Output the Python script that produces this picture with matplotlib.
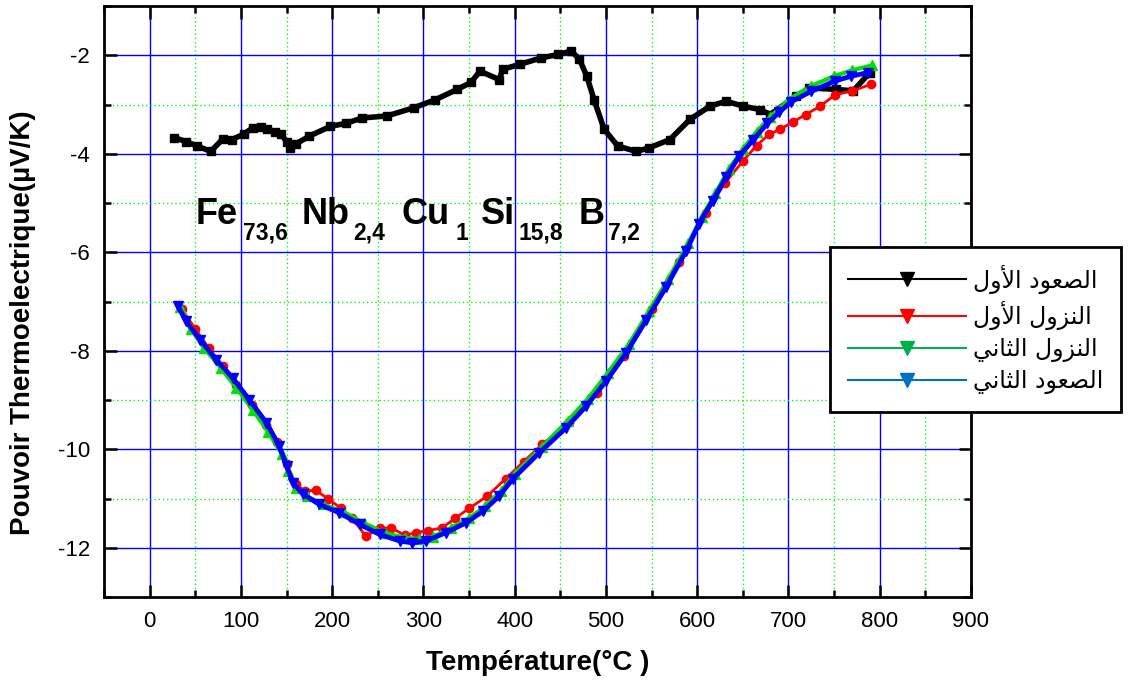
# region imports
import matplotlib
matplotlib.use("Agg")
import matplotlib.pyplot as plt
from matplotlib.lines import Line2D
from matplotlib.ticker import MultipleLocator
# endregion

# region data
# premiere montee (noir)
T_up1 = [27, 40, 52, 67, 80, 90, 103, 113, 122, 129, 137, 144, 150, 154, 160, 175, 198, 215, 233, 260,
         290, 313, 337, 352, 362, 383, 387, 406, 429, 448, 462, 471, 479, 487, 498, 513, 533, 547, 570, 592,
         614, 632, 650, 669, 680, 708, 723, 752, 771, 789]
S_up1 = [-3.67, -3.75, -3.84, -3.95, -3.7, -3.71, -3.6, -3.47, -3.45, -3.5, -3.55, -3.6, -3.75, -3.88, -3.8,
         -3.64, -3.44, -3.38, -3.27, -3.23, -3.06, -2.9, -2.69, -2.55, -2.32, -2.49, -2.28, -2.18, -2.05, -1.98,
         -1.91, -2.08, -2.42, -2.9, -3.5, -3.84, -3.95, -3.88, -3.71, -3.3, -3.03, -2.93, -3.03, -3.1, -3.2,
         -2.83, -2.66, -2.69, -2.72, -2.35]

# premiere descente (rouge)
T_down1 = [35, 50, 65, 80, 95, 112, 128, 140, 150, 160, 170, 182, 195, 210, 222, 237, 252, 265, 280, 292,
           305, 320, 335, 350, 370, 390, 410, 430, 460, 490, 520, 550, 580, 610, 630, 650, 665, 679, 691, 705,
           719, 735, 751, 770, 790]
S_down1 = [-7.15, -7.55, -7.95, -8.3, -8.7, -9.1, -9.5, -9.85, -10.3, -10.7, -10.85, -10.83, -11.0, -11.2,
           -11.4, -11.77, -11.6, -11.6, -11.75, -11.69, -11.65, -11.6, -11.4, -11.2, -10.95, -10.6, -10.25,
           -9.9, -9.45, -8.85, -8.1, -7.15, -6.2, -5.2, -4.6, -4.15, -3.83, -3.6, -3.5, -3.35, -3.2, -3.03,
           -2.8, -2.72, -2.59]

# deuxieme descente (vert)
T_down2 = [33, 45, 60, 78, 95, 113, 130, 145, 152, 160, 172, 190, 212, 235, 258, 280, 295, 310, 330, 350,
           368, 385, 400, 430, 458, 480, 502, 525, 547, 568, 590, 605, 620, 635, 650, 665, 680, 700, 725, 750,
           770, 792]
S_down2 = [-7.1, -7.55, -7.95, -8.35, -8.75, -9.2, -9.65, -10.1, -10.45, -10.78, -10.95, -11.12, -11.27,
           -11.5, -11.7, -11.8, -11.82, -11.78, -11.6, -11.4, -11.15, -10.85, -10.5, -9.95, -9.42, -8.98,
           -8.45, -7.87, -7.2, -6.55, -5.82, -5.28, -4.8, -4.3, -3.9, -3.55, -3.25, -2.9, -2.62, -2.42, -2.3,
           -2.2]

# deuxieme montee (bleu)
T_up2 = [31, 40, 55, 73, 91, 109, 128, 142, 150, 157, 168, 186, 208, 230, 252, 274, 288, 303, 325, 347,
         365, 383, 398, 427, 456, 478, 500, 522, 544, 566, 588, 602, 617, 632, 646, 661, 677, 690, 703, 725,
         751, 769, 787]
S_up2 = [-7.09, -7.4, -7.77, -8.18, -8.55, -8.99, -9.46, -9.93, -10.34, -10.68, -10.91, -11.12, -11.29,
         -11.52, -11.73, -11.86, -11.9, -11.86, -11.69, -11.49, -11.26, -10.95, -10.6, -10.07, -9.57, -9.13,
         -8.62, -8.05, -7.38, -6.7, -5.97, -5.42, -4.95, -4.46, -4.05, -3.72, -3.38, -3.15, -2.94, -2.73,
         -2.52, -2.42, -2.35]

labels = ['الصعود الأول', 'النزول الأول', 'النزول الثاني', 'الصعود الثاني']
x_ticks = [0, 100, 200, 300, 400, 500, 600, 700, 800, 900]
y_ticks = [-12, -10, -8, -6, -4, -2]

# composition Fe73,6 Nb2,4 Cu1 Si15,8 B7,2
elements = ['Fe', 'Nb', 'Cu', 'Si', 'B']
fractions = ['73,6', '2,4', '1', '15,8', '7,2']
# endregion

# region arabic shaping (matplotlib does not join arabic letters itself)
FORMS = {
    'ا': ('\ufe8d', '\ufe8e', None, None),
    'أ': ('\ufe83', '\ufe84', None, None),
    'د': ('\ufea9', '\ufeaa', None, None),
    'ز': ('\ufeaf', '\ufeb0', None, None),
    'و': ('\ufeed', '\ufeee', None, None),
    'ث': ('\ufe99', '\ufe9a', '\ufe9b', '\ufe9c'),
    'ص': ('\ufeb9', '\ufeba', '\ufebb', '\ufebc'),
    'ع': ('\ufec9', '\ufeca', '\ufecb', '\ufecc'),
    'ل': ('\ufedd', '\ufede', '\ufedf', '\ufee0'),
    'ن': ('\ufee5', '\ufee6', '\ufee7', '\ufee8'),
    'ي': ('\ufef1', '\ufef2', '\ufef3', '\ufef4'),
}
LAM_ALEF = {'ا': ('\ufefb', '\ufefc', None, None), 'أ': ('\ufef7', '\ufef8', None, None)}


def shape_word(word):
    letters = []
    i = 0
    while i < len(word):
        if word[i] == 'ل' and i + 1 < len(word) and word[i + 1] in LAM_ALEF:
            letters.append(LAM_ALEF[word[i + 1]])
            i += 2
        else:
            letters.append(FORMS[word[i]])
            i += 1
    out = []
    for k, f in enumerate(letters):
        prev_joins = k > 0 and letters[k - 1][2] is not None
        next_joins = k < len(letters) - 1 and f[2] is not None
        if prev_joins and next_joins:
            out.append(f[3])
        elif prev_joins:
            out.append(f[1])
        elif next_joins:
            out.append(f[2])
        else:
            out.append(f[0])
    return ''.join(out)


def arabic(text):
    # shape each word then reverse for left to right drawing
    return ' '.join(shape_word(w) for w in text.split())[::-1]
# endregion


def main():
    plt.rcParams['font.family'] = ['Liberation Sans', 'DejaVu Sans']
    plt.rcParams['axes.unicode_minus'] = False

    fig = plt.figure(figsize=(11.28, 6.87), dpi=100)
    ax = fig.add_axes([0.0922, 0.131, 0.7686, 0.860])

    # curves
    ax.plot(T_up1, S_up1, color='black', lw=4, marker='s', ms=6, zorder=3)
    ax.plot(T_down1, S_down1, color='#ff0000', lw=2, marker='o', ms=6, zorder=4)
    ax.plot(T_down2, S_down2, color='#00e000', lw=3, marker='^', ms=7, zorder=5)
    ax.plot(T_up2, S_up2, color='#0000ff', lw=3.5, marker='v', ms=7, zorder=6)

    # alloy formula, element symbols and lowered indices placed one by one
    elem_x = [50, 166.5, 276.5, 362.5, 470]
    sub_x = [102, 223, 335, 404, 502]
    for el, fr, xe, xs in zip(elements, fractions, elem_x, sub_x):
        ax.text(xe, -5.42, el, fontsize=26, fontweight='bold', va='baseline', zorder=7)
        ax.text(xs, -5.74, fr, fontsize=16.5, fontweight='bold', va='baseline', zorder=7)

    ax.set_xlim(-50, 900)
    ax.set_ylim(-13, -1)
    ax.set_xticks(x_ticks)
    ax.set_yticks(y_ticks)
    ax.xaxis.set_minor_locator(MultipleLocator(50))
    ax.yaxis.set_minor_locator(MultipleLocator(1))
    ax.grid(which='major', color='#0000ff', lw=1)
    ax.grid(which='minor', color='#00ff00', lw=1, ls=(0, (1, 2)))
    ax.set_axisbelow(True)

    ax.tick_params(which='both', direction='in', top=True, right=True, width=1.8)
    ax.tick_params(which='major', length=9, labelsize=16, pad=10)
    ax.tick_params(which='minor', length=5)
    for s in ax.spines.values():
        s.set_linewidth(2)

    ax.set_xlabel('Température(°C )', fontsize=20, fontweight='bold')
    ax.set_ylabel('Pouvoir Thermoelectrique(µV/K)', fontsize=20, fontweight='bold')
    ax.xaxis.set_label_coords(0.5, -0.09)
    ax.yaxis.set_label_coords(-0.078, 0.465)

    # legend with down triangles like the original
    leg_colors = ['black', '#ff0000', '#00b050', '#0070c0']
    handles = [Line2D([], [], color=c, lw=1.5, marker='v', ms=10) for c in leg_colors]
    leg = fig.legend(handles, [arabic(l) for l in labels], loc='upper left',
                     bbox_to_anchor=(830 / 1128, 1 - 247 / 687), borderaxespad=0,
                     prop={'family': 'DejaVu Sans', 'size': 17}, handlelength=5.0,
                     handletextpad=0.3, labelspacing=0.3, borderpad=0.75,
                     fancybox=False, framealpha=1, edgecolor='black')
    leg.get_frame().set_linewidth(2)

    fig.savefig('out.png', dpi=100)


# region function calls
if __name__ == "__main__":
    main()
# endregion
